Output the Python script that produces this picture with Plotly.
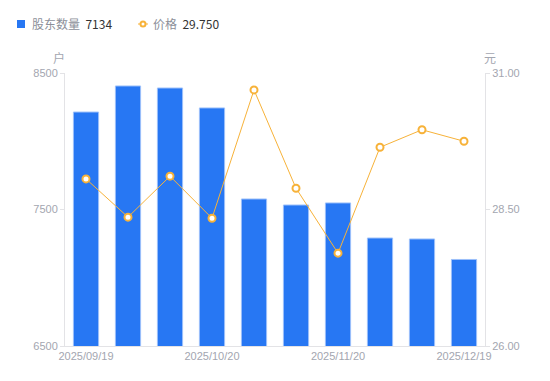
import plotly.graph_objects as go

dates = ["2025/09/19", "2025/09/30", "2025/10/10", "2025/10/20", "2025/10/31",
         "2025/11/10", "2025/11/20", "2025/11/28", "2025/12/10", "2025/12/19"]
holders = [8214, 8405, 8390, 8244, 7577, 7533, 7548, 7291, 7284, 7134]
price = [29.06, 28.36, 29.11, 28.34, 30.69, 28.89, 27.70, 29.64, 29.96, 29.75]
tick_dates = ["2025/09/19", "2025/10/20", "2025/11/20", "2025/12/19"]
left_ticks = [6500, 7500, 8500]
right_ticks = [26.00, 28.50, 31.00]

FONT = "Liberation Sans, Arial, Noto Sans CJK SC, sans-serif"
GRAY = "#a3a6b0"
BLUE = "#2777f3"
ORANGE = "#f7b239"

fig = go.Figure()
fig.add_trace(go.Bar(
    x=dates, y=holders, name="股东数量",
    marker=dict(color=BLUE, line=dict(color="#9cc0fa", width=1)),
    width=0.6, yaxis="y", showlegend=False,
))
fig.add_trace(go.Scatter(
    x=dates, y=price, name="价格", mode="lines+markers",
    line=dict(color=ORANGE, width=1),
    marker=dict(symbol="circle", size=7, color="white", line=dict(color=ORANGE, width=2)),
    yaxis="y2", showlegend=False,
))

fig.update_layout(
    width=550, height=381,
    margin=dict(l=65, r=65, t=73, b=35),
    plot_bgcolor="white", paper_bgcolor="white",
    font=dict(family=FONT, size=11, color=GRAY),
    xaxis=dict(
        type="category", tickmode="array", tickvals=tick_dates, ticktext=tick_dates,
        range=[-0.5, len(dates) - 0.5],
        showline=True, linecolor="#e3e3e6", linewidth=1, ticks="", showgrid=False,
        tickfont=dict(size=11, color=GRAY), zeroline=False,
    ),
    yaxis=dict(
        range=[6500, 8500], tickvals=left_ticks, ticktext=[str(v) for v in left_ticks],
        showline=True, linecolor="#e3e3e6", linewidth=1, ticks="outside", ticklen=4,
        tickcolor="#e3e3e6", showgrid=False, zeroline=False,
        tickfont=dict(size=11, color=GRAY),
    ),
    yaxis2=dict(
        range=[26, 31], overlaying="y", side="right",
        tickvals=right_ticks, ticktext=["%.2f" % v for v in right_ticks],
        showline=True, linecolor="#e3e3e6", linewidth=1, ticks="outside", ticklen=4,
        tickcolor="#e3e3e6", showgrid=False, zeroline=False,
        tickfont=dict(size=11, color=GRAY),
    ),
    showlegend=False,
)

# axis unit titles
fig.add_annotation(text="户", xref="paper", yref="paper", x=-0.015, y=1.0, yshift=16,
                   showarrow=False, font=dict(size=12, color=GRAY, family="Noto Sans CJK SC"),
                   xanchor="center", yanchor="middle")
fig.add_annotation(text="元", xref="paper", yref="paper", x=1.012, y=1.0, yshift=16,
                   showarrow=False, font=dict(size=12, color=GRAY, family="Noto Sans CJK SC"),
                   xanchor="center", yanchor="middle")

# legend (drawn manually)
fig.add_shape(type="rect", xref="paper", yref="paper",
              x0=(17 - 65) / 420, x1=(25 - 65) / 420,
              y0=(346 - 20) / 273, y1=(346 - 28) / 273,
              fillcolor=BLUE, line=dict(width=0))
fig.add_annotation(
    text="<span style='color:#8c8f99'>股东数量</span>  <span style='color:#333'>%d</span>" % holders[-1],
    xref="paper", yref="paper", x=(30 - 65) / 420, y=(346 - 24) / 273,
    showarrow=False, xanchor="left", yanchor="middle",
    font=dict(size=12, family="Noto Sans CJK SC, Liberation Sans"))
fig.add_shape(type="line", xref="paper", yref="paper",
              x0=(138 - 65) / 420, x1=(148 - 65) / 420,
              y0=(346 - 24) / 273, y1=(346 - 24) / 273,
              line=dict(color=ORANGE, width=1))
fig.add_shape(type="circle", xref="paper", yref="paper",
              x0=(140.5 - 65) / 420, x1=(145.5 - 65) / 420,
              y0=(346 - 21.5) / 273, y1=(346 - 26.5) / 273,
              fillcolor="white", line=dict(color=ORANGE, width=2))
fig.add_annotation(
    text="<span style='color:#8c8f99'>价格</span>  <span style='color:#333'>%.3f</span>" % price[-1],
    xref="paper", yref="paper", x=(151 - 65) / 420, y=(346 - 24) / 273,
    showarrow=False, xanchor="left", yanchor="middle",
    font=dict(size=12, family="Noto Sans CJK SC, Liberation Sans"))

fig.write_html("out.html", config={"displayModeBar": False},
               post_script="document.body.style.margin='0';document.body.style.overflow='hidden';")
